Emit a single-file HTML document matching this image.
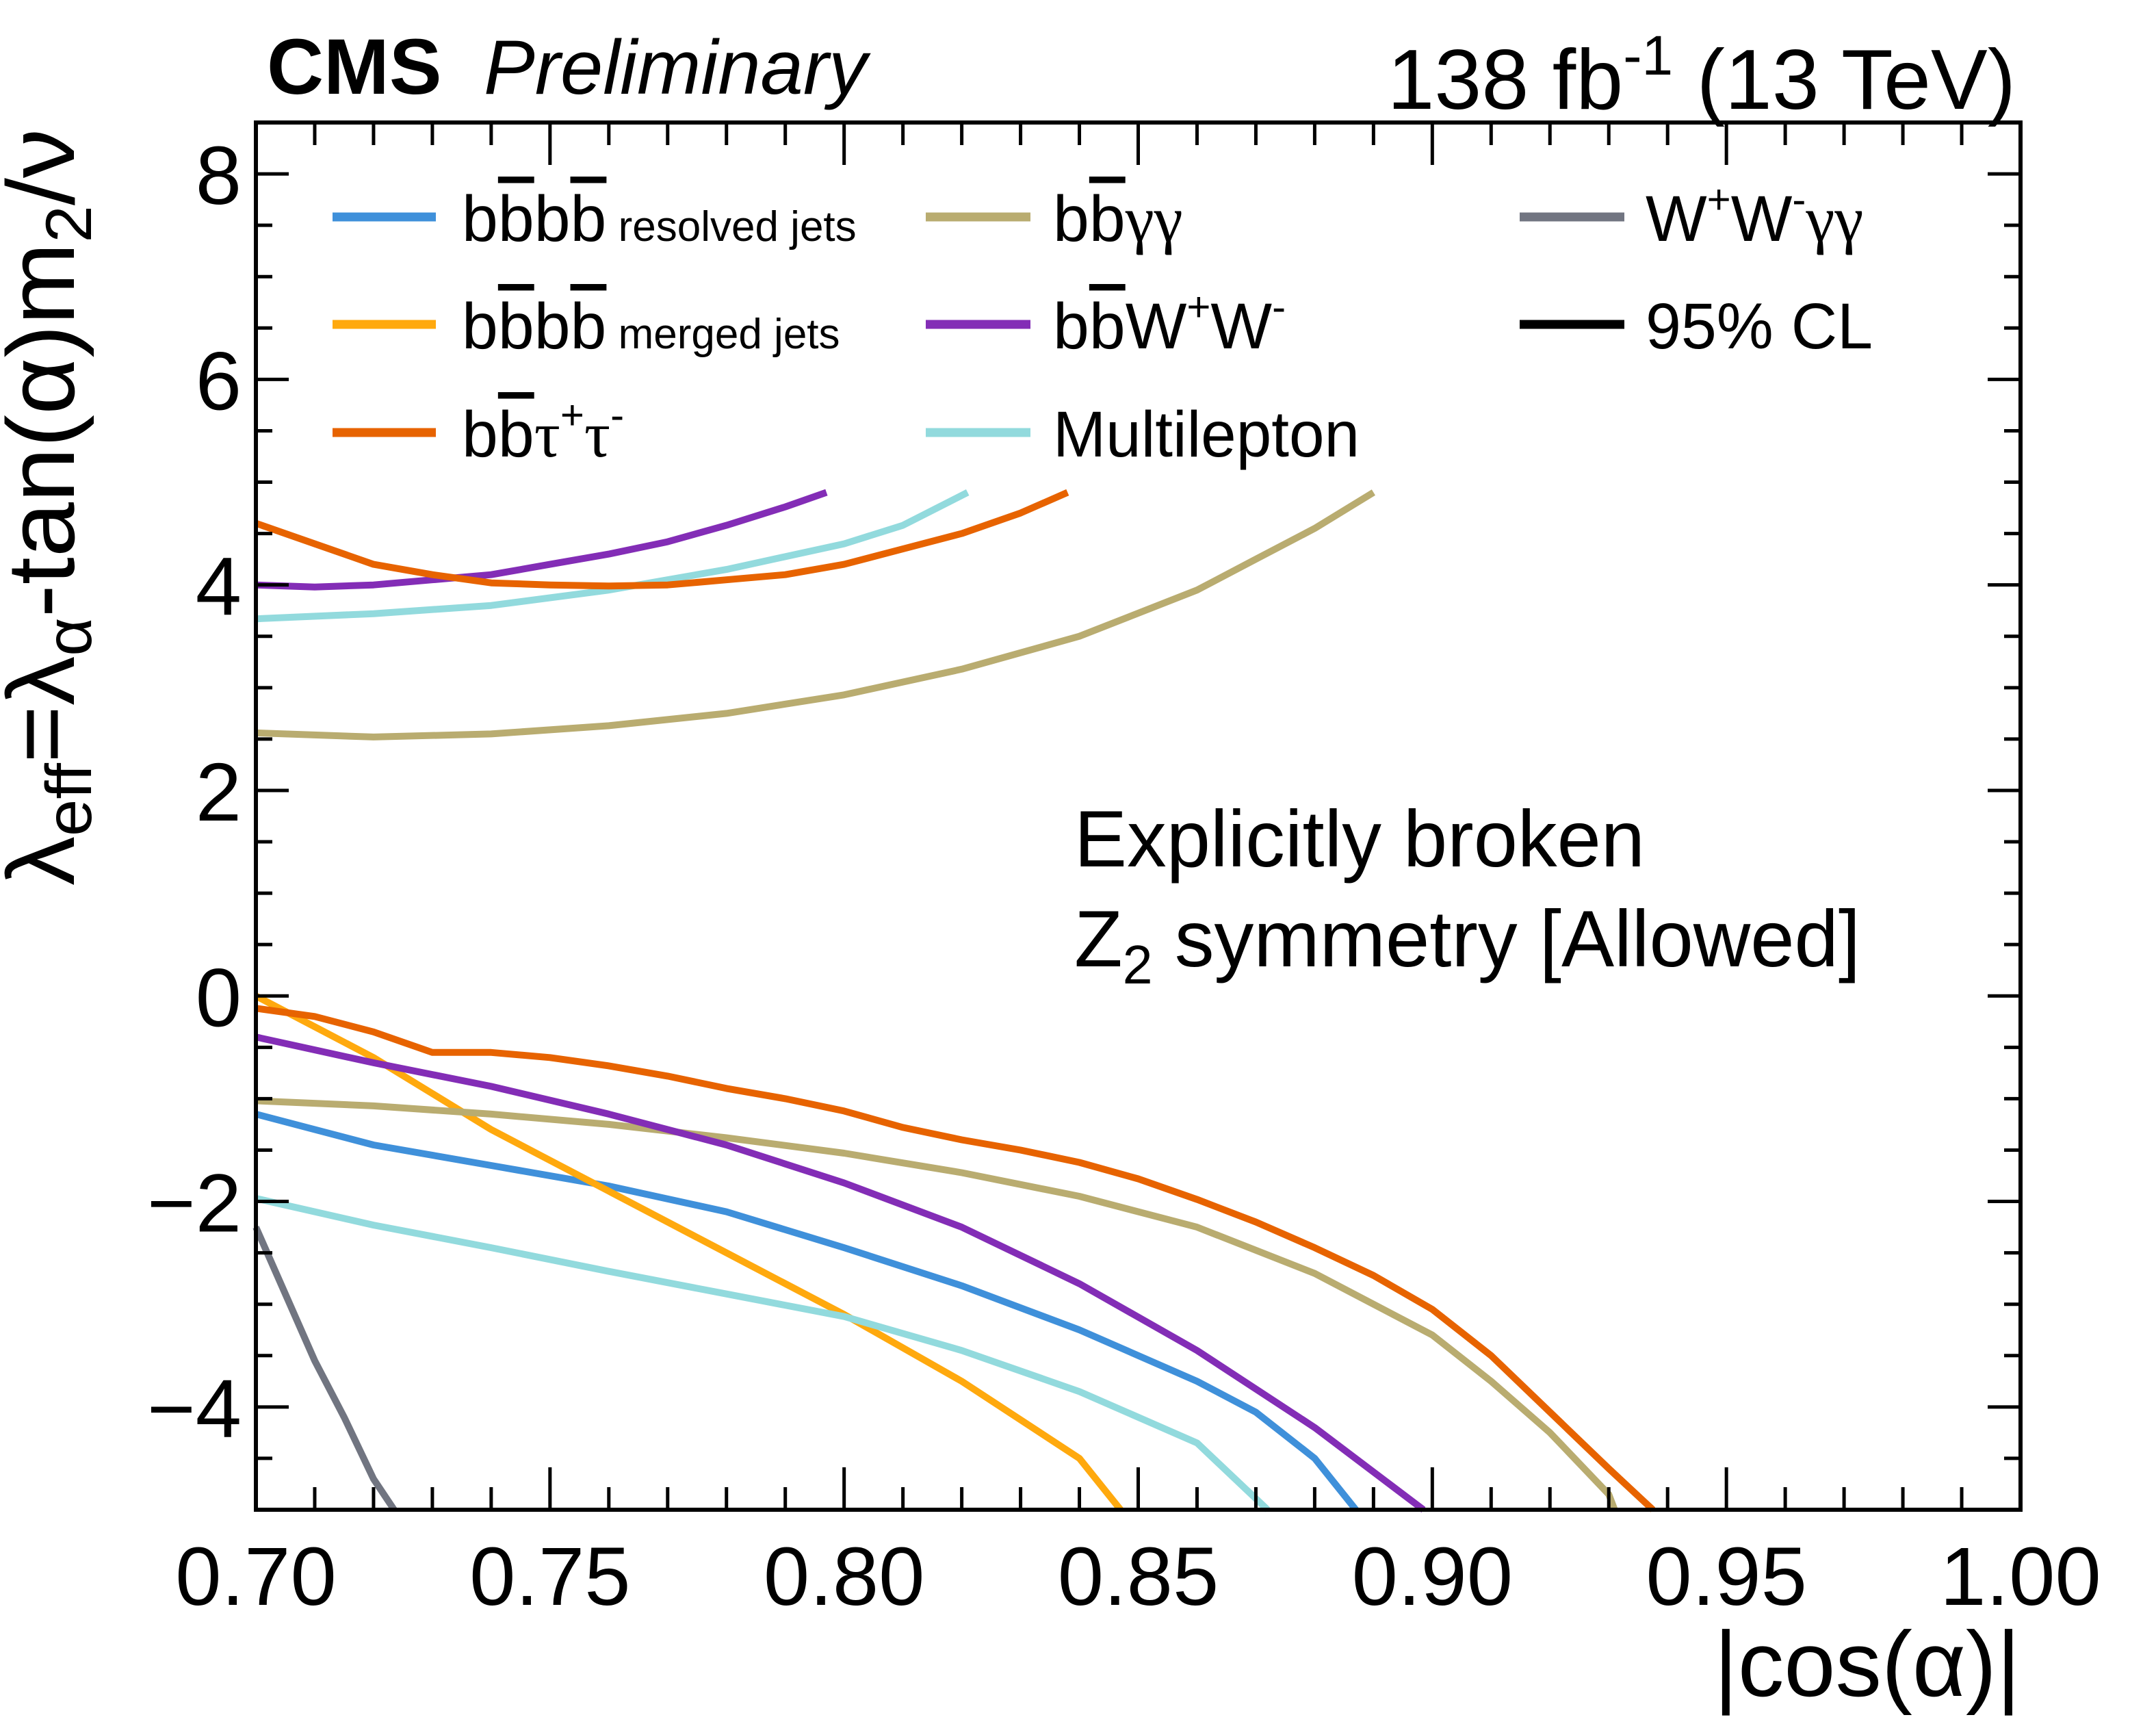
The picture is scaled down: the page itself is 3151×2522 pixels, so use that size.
<!DOCTYPE html>
<html><head><meta charset="utf-8"><style>
html,body{margin:0;padding:0;background:#fff}
svg{display:block}
text{font-family:"Liberation Sans",sans-serif;fill:#000}
</style></head><body>
<svg id="chart" width="3151" height="2522" viewBox="0 0 3151 2522" xmlns="http://www.w3.org/2000/svg">
<rect x="0" y="0" width="3151" height="2522" fill="#fff"/>
<g id="curves"></g>
<g id="axes"></g>
<rect x="374" y="179" width="2579" height="2027" fill="none" stroke="#000" stroke-width="6"/>
<text x="390" y="137" font-size="115" font-weight="bold">CMS</text>
<text x="707" y="137" font-size="112" font-style="italic">Preliminary</text>
<text x="2946" y="159" font-size="124" text-anchor="end">138 fb<tspan dy="-50" font-size="82">-1</tspan><tspan dy="50"> (13 TeV)</tspan></text>
<text x="2953" y="2478" font-size="135" text-anchor="end">|cos(α)|</text>
<text transform="translate(108,1294) rotate(-90)" font-size="140" textLength="1106" lengthAdjust="spacingAndGlyphs">λ<tspan font-size="95" dy="25">eff</tspan><tspan dy="-25">=λ</tspan><tspan font-size="95" dy="25">α</tspan><tspan dy="-25">-tan(α)m</tspan><tspan font-size="95" dy="25">2</tspan><tspan dy="-25">/ν</tspan></text>
<text x="1570" y="1266" font-size="117" textLength="834" lengthAdjust="spacingAndGlyphs">Explicitly broken</text>
<text x="1570" y="1412" font-size="117" textLength="1149" lengthAdjust="spacingAndGlyphs">Z<tspan font-size="80" dy="25">2</tspan><tspan dy="-25"> symmetry [Allowed]</tspan></text>
<g id="legend">
 <g>
  <line x1="486" x2="637" y1="317" y2="317" stroke="#3f90da" stroke-width="13"/>
  <text x="675" y="352" font-size="95">b<tspan text-decoration="overline">b</tspan>b<tspan text-decoration="overline">b</tspan><tspan font-size="62"> resolved jets</tspan></text>
 </g>
 <g>
  <line x1="486" x2="637" y1="474" y2="474" stroke="#ffa90e" stroke-width="13"/>
  <text x="675" y="509" font-size="95">b<tspan text-decoration="overline">b</tspan>b<tspan text-decoration="overline">b</tspan><tspan font-size="62"> merged jets</tspan></text>
 </g>
 <g>
  <line x1="486" x2="637" y1="632" y2="632" stroke="#e76300" stroke-width="13"/>
  <text x="675" y="667" font-size="95">b<tspan text-decoration="overline">b</tspan><tspan font-family="Liberation Serif">τ</tspan><tspan font-size="60" dy="-40">+</tspan><tspan dy="40" font-family="Liberation Serif">τ</tspan><tspan font-size="60" dy="-40">-</tspan></text>
 </g>
 <g>
  <line x1="1353" x2="1506" y1="317" y2="317" stroke="#b9ac70" stroke-width="13"/>
  <text x="1539" y="352" font-size="95">b<tspan text-decoration="overline">b</tspan><tspan font-family="Liberation Serif">γγ</tspan></text>
 </g>
 <g>
  <line x1="1353" x2="1506" y1="474" y2="474" stroke="#832db6" stroke-width="13"/>
  <text x="1539" y="509" font-size="95">b<tspan text-decoration="overline">b</tspan>W<tspan font-size="60" dy="-40">+</tspan><tspan dy="40">W</tspan><tspan font-size="60" dy="-40">-</tspan></text>
 </g>
 <g>
  <line x1="1353" x2="1506" y1="632" y2="632" stroke="#92dadd" stroke-width="13"/>
  <text x="1539" y="667" font-size="95" textLength="448" lengthAdjust="spacingAndGlyphs">Multilepton</text>
 </g>
 <g>
  <line x1="2221" x2="2374" y1="317" y2="317" stroke="#717581" stroke-width="13"/>
  <text x="2405" y="352" font-size="95">W<tspan font-size="60" dy="-40">+</tspan><tspan dy="40">W</tspan><tspan font-size="60" dy="-40">-</tspan><tspan dy="40" font-family="Liberation Serif">γγ</tspan></text>
 </g>
 <g>
  <line x1="2221" x2="2374" y1="474" y2="474" stroke="#000" stroke-width="13"/>
  <text x="2405" y="509" font-size="95" textLength="332" lengthAdjust="spacingAndGlyphs">95% CL</text>
 </g>
</g>
</svg>
<script>
const xTicks = [0.70, 0.75, 0.80, 0.85, 0.90, 0.95, 1.00];
const xTickLabels = ["0.70", "0.75", "0.80", "0.85", "0.90", "0.95", "1.00"];
const yTicks = [-4, -2, 0, 2, 4, 6, 8];
const yTickLabels = ["\u22124", "\u22122", "0", "2", "4", "6", "8"];

const bbbbResX = [0.70,0.72,0.74,0.76,0.78,0.80,0.82,0.84,0.86,0.87,0.88,0.887];
const bbbbResY = [-1.15,-1.45,-1.65,-1.85,-2.1,-2.45,-2.82,-3.25,-3.75,-4.05,-4.5,-5];
const bbbbMerX = [0.70,0.71,0.72,0.73,0.74,0.75,0.76,0.78,0.80,0.82,0.84,0.847];
const bbbbMerY = [0.0,-0.3,-0.6,-0.95,-1.3,-1.6,-1.9,-2.5,-3.1,-3.75,-4.5,-5];
const bbttUpX = [0.70,0.71,0.72,0.73,0.74,0.75,0.76,0.77,0.78,0.79,0.80,0.81,0.82,0.83,0.838];
const bbttUpY = [4.6,4.4,4.2,4.1,4.02,4.0,3.99,4.0,4.05,4.1,4.2,4.35,4.5,4.7,4.9];
const bbttLoX = [0.70,0.71,0.72,0.73,0.74,0.75,0.76,0.77,0.78,0.79,0.80,0.81,0.82,0.83,0.84,0.85,0.86,0.87,0.88,0.89,0.90,0.91,0.92,0.93,0.9375];
const bbttLoY = [-0.12,-0.2,-0.35,-0.55,-0.55,-0.6,-0.68,-0.78,-0.9,-1.0,-1.12,-1.28,-1.4,-1.5,-1.62,-1.78,-1.98,-2.2,-2.45,-2.72,-3.05,-3.5,-4.05,-4.6,-5];
const bbggUpX = [0.70,0.72,0.74,0.76,0.78,0.80,0.82,0.84,0.86,0.87,0.88,0.89];
const bbggUpY = [2.56,2.52,2.55,2.63,2.75,2.93,3.18,3.5,3.95,4.25,4.55,4.9];
const bbggLoX = [0.70,0.72,0.74,0.76,0.78,0.80,0.82,0.84,0.86,0.88,0.90,0.91,0.92,0.93,0.931];
const bbggLoY = [-1.02,-1.07,-1.15,-1.25,-1.38,-1.53,-1.72,-1.95,-2.25,-2.7,-3.3,-3.75,-4.25,-4.85,-5];
const bbwwUpX = [0.70,0.71,0.72,0.73,0.74,0.75,0.76,0.77,0.78,0.79,0.797];
const bbwwUpY = [4.0,3.98,4.0,4.05,4.1,4.2,4.3,4.42,4.58,4.76,4.9];
const bbwwLoX = [0.70,0.72,0.74,0.76,0.78,0.80,0.82,0.84,0.86,0.88,0.8985];
const bbwwLoY = [-0.4,-0.65,-0.88,-1.15,-1.45,-1.82,-2.25,-2.8,-3.45,-4.2,-5];
const mlUpX = [0.70,0.72,0.74,0.76,0.78,0.80,0.81,0.821];
const mlUpY = [3.67,3.72,3.8,3.95,4.15,4.4,4.58,4.9];
const mlLoX = [0.70,0.72,0.74,0.76,0.78,0.80,0.82,0.84,0.86,0.872];
const mlLoY = [-1.97,-2.23,-2.45,-2.68,-2.9,-3.12,-3.45,-3.85,-4.35,-5];
const wwggX = [0.70,0.705,0.71,0.715,0.72,0.7235];
const wwggY = [-2.25,-2.9,-3.55,-4.1,-4.7,-5];

const X0=374, X1=2953, Y0=179, Y1=2206;
const xMin=0.70, xMax=1.00, yMin=-5, yMax=8.5;
function sx(v){return X0+(v-xMin)/(xMax-xMin)*(X1-X0);}
function sy(v){return Y1-(v-yMin)/(yMax-yMin)*(Y1-Y0);}
const NS="http://www.w3.org/2000/svg";
const axes=document.getElementById('axes');
const curves=document.getElementById('curves');
function ln(x1,y1,x2,y2,name){
  const l=document.createElementNS(NS,'line');
  l.setAttribute('x1',x1);l.setAttribute('y1',y1);l.setAttribute('x2',x2);l.setAttribute('y2',y2);
  l.setAttribute('stroke','#000');l.setAttribute('stroke-width','5');
  
  
  axes.appendChild(l);
}
for(let i=0;i<=30;i++){
  const v=xMin+i*0.01; const px=sx(v); const major=(i%5===0); const L=major?62:33;
  ln(px,Y1,px,Y1-L,'x-tick');
  ln(px,Y0,px,Y0+L,'x-tick-top');
}
for(let i=0;i<=27;i++){
  const v=yMin+i*0.5; const py=sy(v); const major=(Math.abs(v-Math.round(v))<1e-9 && Math.round(v)%2===0); const L=major?48:24;
  ln(X0,py,X0+L,py,'y-tick');
  ln(X1,py,X1-L,py,'y-tick-right');
}
xTicks.forEach((v,i)=>{
  const t=document.createElementNS(NS,'text');
  t.setAttribute('x',sx(v));t.setAttribute('y',2345);t.setAttribute('font-size','121');t.setAttribute('text-anchor','middle');
  t.textContent=xTickLabels[i];
  
  
  axes.appendChild(t);
});
yTicks.forEach((v,i)=>{
  const t=document.createElementNS(NS,'text');
  t.setAttribute('x',353);t.setAttribute('y',sy(v)+44);t.setAttribute('font-size','121');t.setAttribute('text-anchor','end');
  t.textContent=yTickLabels[i];
  
  
  axes.appendChild(t);
});
const series=[
  [bbbbResX,bbbbResY,'#3f90da','curve-bbbb-resolved'],
  [bbbbMerX,bbbbMerY,'#ffa90e','curve-bbbb-merged'],
  [bbggUpX,bbggUpY,'#b9ac70','curve-bbgammagamma-upper'],
  [bbggLoX,bbggLoY,'#b9ac70','curve-bbgammagamma-lower'],
  [mlUpX,mlUpY,'#92dadd','curve-multilepton-upper'],
  [mlLoX,mlLoY,'#92dadd','curve-multilepton-lower'],
  [bbwwUpX,bbwwUpY,'#832db6','curve-bbww-upper'],
  [bbwwLoX,bbwwLoY,'#832db6','curve-bbww-lower'],
  [bbttUpX,bbttUpY,'#e76300','curve-bbtautau-upper'],
  [bbttLoX,bbttLoY,'#e76300','curve-bbtautau-lower'],
  [wwggX,wwggY,'#717581','curve-wwgammagamma']
];
series.forEach(s=>{
  const p=document.createElementNS(NS,'polyline');
  p.setAttribute('points',s[0].map((x,i)=>sx(x).toFixed(1)+','+sy(s[1][i]).toFixed(1)).join(' '));
  p.setAttribute('fill','none');p.setAttribute('stroke',s[2]);p.setAttribute('stroke-width','10');
  p.setAttribute('stroke-linejoin','round');
  
  
  curves.appendChild(p);
});
</script>
</body></html>
